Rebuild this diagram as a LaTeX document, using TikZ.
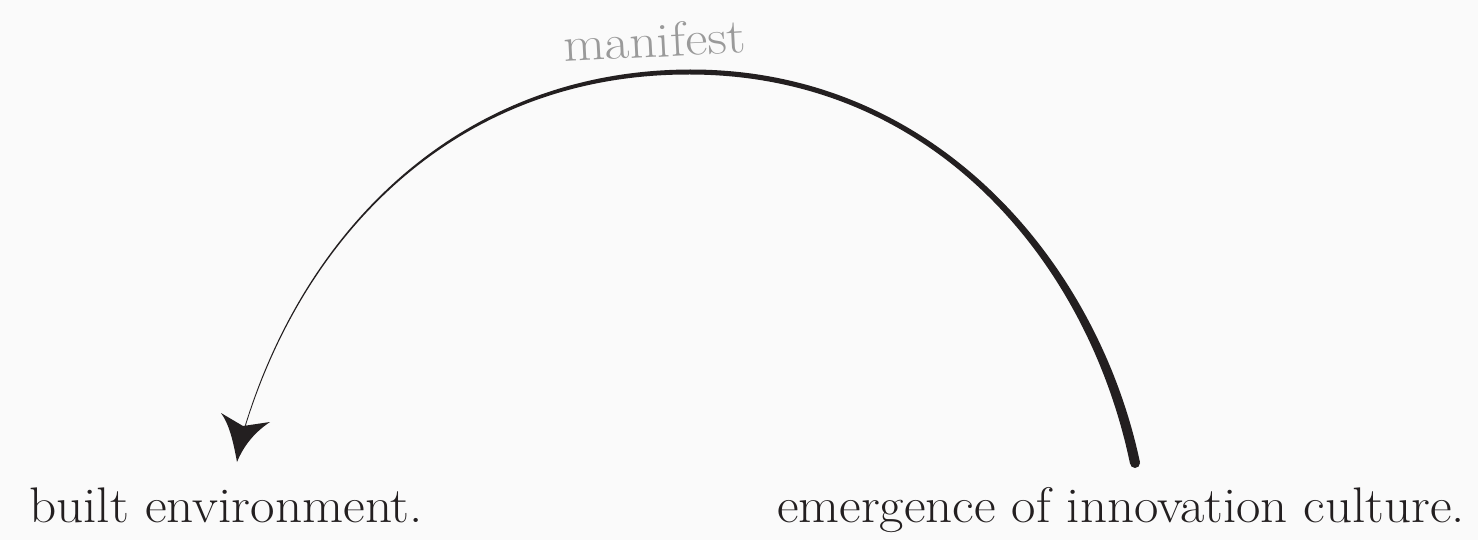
\documentclass[tikz,border=0pt]{standalone}
\definecolor{bg}{HTML}{FAFAFA}
\definecolor{ink}{HTML}{231F20}
\definecolor{soft}{HTML}{9A9A9A}
\tikzset{
  bigtext/.style={inner sep=0pt, text=ink, font=\fontsize{50}{60}\selectfont},
  labeltext/.style={inner sep=0pt, text=soft, font=\fontsize{49}{58}\selectfont},
  inkfill/.style={fill=ink, draw=none}
}
\begin{document}
\begin{tikzpicture}[x=1pt,y=-1pt]
\useasboundingbox (0,0) rectangle (1478,540);
\fill[bg] (0,0) rectangle (1478,540);

% text nodes
\node[bigtext, anchor=base west] (built) at (29,522) {\scalebox{1.065}[1]{built environment.}};
\node[bigtext, anchor=base west] (emerg) at (777,522) {\scalebox{1.06}[1]{emergence of innovation culture.}};
\node[labeltext, anchor=base west, rotate=3] (manifest) at (564,62) {\scalebox{1.1}[1]{manifest}};

% centre-line key points of the tapered arc
\coordinate (start) at (1135,463);
\coordinate (top) at (690,72);
\coordinate (end) at (244,430);

% outer edge
\coordinate (ro0) at (1139.9,461.97);
\coordinate (ro1) at (1097.4,262.1);
\coordinate (ro2) at (935,69.0);
\coordinate (ro3) at (690,69.5);
\coordinate (lo1) at (460,70.3);
\coordinate (lo2) at (303.23,229.77);
\coordinate (lo3) at (243.62,429.89);
% inner edge
\coordinate (li3) at (244.38,430.11);
\coordinate (li2) at (304.77,230.23);
\coordinate (li1) at (460,73.7);
\coordinate (ri3) at (690,74.5);
\coordinate (ri2) at (935,75.0);
\coordinate (ri1) at (1088.6,263.9);
\coordinate (ri0) at (1130.1,464.03);

\path[inkfill] (ro0) .. controls (ro1) and (ro2) .. (ro3)
  .. controls (lo1) and (lo2) .. (lo3) -- (li3)
  .. controls (li2) and (li1) .. (ri3)
  .. controls (ri2) and (ri1) .. (ri0) -- cycle;
\fill[ink] (start) circle (5);

% arrowhead
\coordinate (tip) at (237,462);
\coordinate (lb) at (221,413);
\coordinate (notch) at (243,426);
\coordinate (rb) at (270,422);
\path[inkfill] (tip) .. controls (233,440) and (229,424) .. (lb)
  -- (notch) -- (rb) .. controls (255,432) and (244,445) .. (tip) -- cycle;
\end{tikzpicture}
\end{document}
